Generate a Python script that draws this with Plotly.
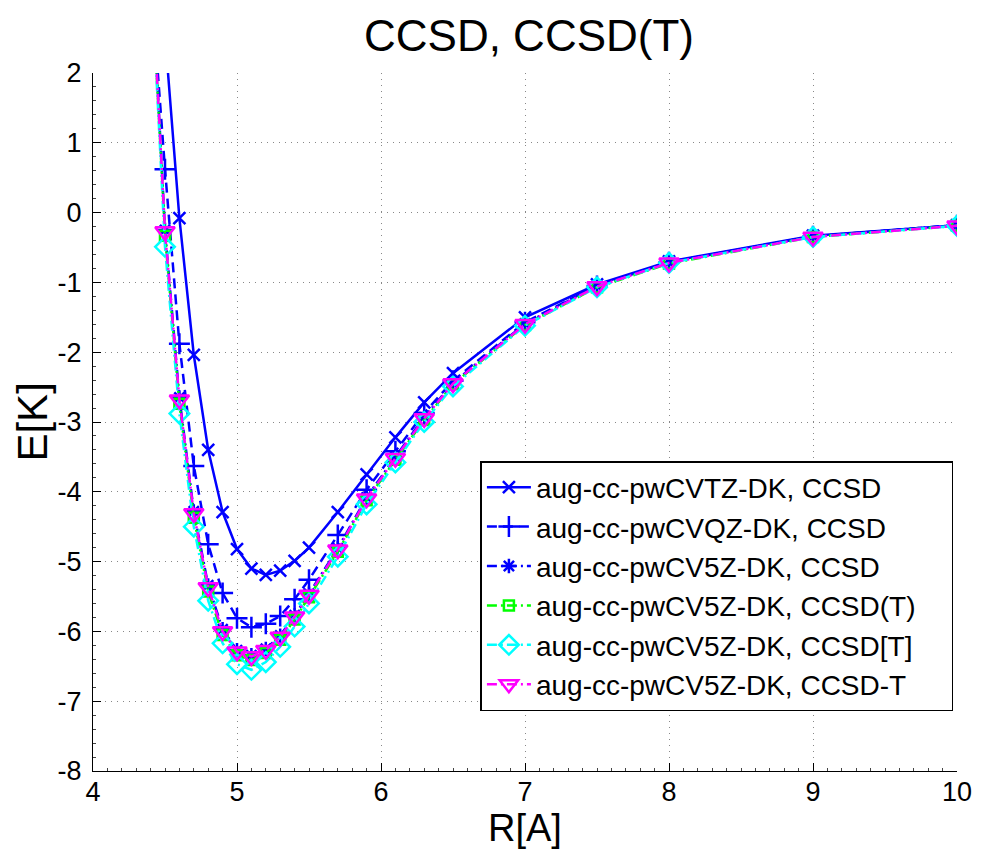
import plotly.graph_objects as go

# ---- data ----
R = [4.4, 4.5, 4.6, 4.7, 4.8, 4.9, 5.0, 5.1, 5.2, 5.3, 5.4, 5.5, 5.7, 5.9, 6.1, 6.3, 6.5, 7.0, 7.5, 8.0, 9.0, 10.0]

tz_ccsd = [9.0, 2.55, -0.08, -2.04, -3.40, -4.29, -4.82, -5.10, -5.19, -5.13, -4.99, -4.80, -4.29, -3.75, -3.22, -2.72, -2.30, -1.50, -1.03, -0.70, -0.33, -0.18]
qz_ccsd = [3.4, 0.62, -1.88, -3.63, -4.75, -5.45, -5.81, -5.94, -5.89, -5.78, -5.54, -5.26, -4.62, -3.97, -3.42, -2.87, -2.41, -1.57, -1.05, -0.71, -0.34, -0.18]
v5z_ccsd = [3.75, -0.25, -2.65, -4.28, -5.34, -5.97, -6.27, -6.34, -6.25, -6.06, -5.77, -5.46, -4.81, -4.08, -3.50, -2.93, -2.44, -1.59, -1.05, -0.71, -0.34, -0.18]
v5z_ccsd_t = [3.65, -0.33, -2.74, -4.37, -5.43, -6.05, -6.34, -6.41, -6.31, -6.12, -5.83, -5.51, -4.86, -4.12, -3.54, -2.97, -2.46, -1.61, -1.07, -0.73, -0.35, -0.19]
v5z_ccsd_bt = [3.6, -0.49, -2.88, -4.50, -5.56, -6.17, -6.47, -6.55, -6.44, -6.22, -5.93, -5.60, -4.93, -4.18, -3.58, -3.00, -2.49, -1.62, -1.07, -0.72, -0.35, -0.19]
v5z_ccsd_mt = [3.7, -0.27, -2.68, -4.31, -5.37, -6.00, -6.29, -6.36, -6.27, -6.08, -5.79, -5.48, -4.83, -4.10, -3.52, -2.95, -2.45, -1.60, -1.06, -0.72, -0.35, -0.19]

names = [
    "aug-cc-pwCVTZ-DK, CCSD",
    "aug-cc-pwCVQZ-DK, CCSD",
    "aug-cc-pwCV5Z-DK, CCSD",
    "aug-cc-pwCV5Z-DK, CCSD(T)",
    "aug-cc-pwCV5Z-DK, CCSD[T]",
    "aug-cc-pwCV5Z-DK, CCSD-T",
]
series = [tz_ccsd, qz_ccsd, v5z_ccsd, v5z_ccsd_t, v5z_ccsd_bt, v5z_ccsd_mt]

x_ticks = [4, 5, 6, 7, 8, 9, 10]
x_ticklabels = ["4", "5", "6", "7", "8", "9", "10"]
y_ticks = [-8, -7, -6, -5, -4, -3, -2, -1, 0, 1, 2]
y_ticklabels = ["-8", "-7", "-6", "-5", "-4", "-3", "-2", "-1", "0", "1", "2"]

colors = ["#0000FF", "#0000FF", "#0000FF", "#00FF00", "#00FFFF", "#FF00FF"]
DASH = "10px,6px"
DASHDOT = "10px,4px,2px,4px"
dashes = ["solid", DASH, DASHDOT, DASHDOT, DASHDOT, DASHDOT]
symbols = ["x-thin-open", "cross-thin-open", "asterisk-open", "square-open", "diamond-open", "triangle-down-open"]
msizes = [12, 15, 12, 10, 15, 17]

FONT = "Liberation Sans, Arial, Helvetica, sans-serif"
PAD = "\u00a0\u00a0\u00a0\u00a0"  # widen legend box like the reference

fig = go.Figure()
for i, (nm, ys, c, d, s, ms) in enumerate(zip(names, series, colors, dashes, symbols, msizes)):
    fig.add_trace(go.Scatter(
        x=R, y=ys, name=nm + (PAD if i == 3 else ""), mode="lines+markers",
        line=dict(color=c, width=2.5, dash=d),
        marker=dict(symbol=s, size=ms, color=c, line=dict(color=c, width=2.5)),
    ))

fig.update_layout(
    width=984, height=850,
    margin=dict(l=93, r=19, t=73, b=79),
    paper_bgcolor="white", plot_bgcolor="white",
    font=dict(family=FONT, color="black"),
    title=dict(text="CCSD, CCSD(T)", font=dict(size=44, color="black"),
               x=(93 + 965) / 2 / 984, xanchor="center", y=1 - 36 / 850, yanchor="middle"),
    showlegend=True,
    legend=dict(x=(484 - 93) / 872, y=(771 - 461) / 698, xanchor="left", yanchor="top",
                bgcolor="white", bordercolor="black", borderwidth=1.5,
                font=dict(size=28, color="black"), itemwidth=44),
)

fig.update_xaxes(
    range=[4, 10], tickvals=x_ticks, ticktext=x_ticklabels,
    showline=True, linecolor="black", linewidth=1, mirror=False,
    ticks="inside", ticklen=8, tickcolor="black", tickwidth=1,
    tickfont=dict(size=27, color="black"), ticklabelstandoff=-3,
    showgrid=True, gridcolor="#888888", gridwidth=1, griddash="1px,5px",
    zeroline=False,
    minor=dict(ticks="inside", ticklen=3, dtick=0.1, tickcolor="#444444", showgrid=False),
)
fig.update_yaxes(
    range=[-8, 2], tickvals=y_ticks, ticktext=y_ticklabels,
    showline=True, linecolor="black", linewidth=1, mirror=False,
    ticks="inside", ticklen=8, tickcolor="black", tickwidth=1,
    tickfont=dict(size=27, color="black"), ticklabelstandoff=5,
    showgrid=True, gridcolor="#888888", gridwidth=1, griddash="1px,5px",
    zeroline=False,
    minor=dict(ticks="inside", ticklen=3, dtick=0.2, tickcolor="#444444", showgrid=False),
)

fig.add_annotation(text="R[A]", xref="paper", yref="paper", x=0.5, y=-(828 - 771) / 698,
                   xanchor="center", yanchor="middle", showarrow=False,
                   font=dict(size=38, color="black", family=FONT))
fig.add_annotation(text="E[K]", xref="paper", yref="paper", x=-(93 - 31) / 872, y=0.5,
                   xanchor="center", yanchor="middle", showarrow=False, textangle=-90,
                   font=dict(size=42, color="black", family=FONT))

fig.write_html("out.html")
